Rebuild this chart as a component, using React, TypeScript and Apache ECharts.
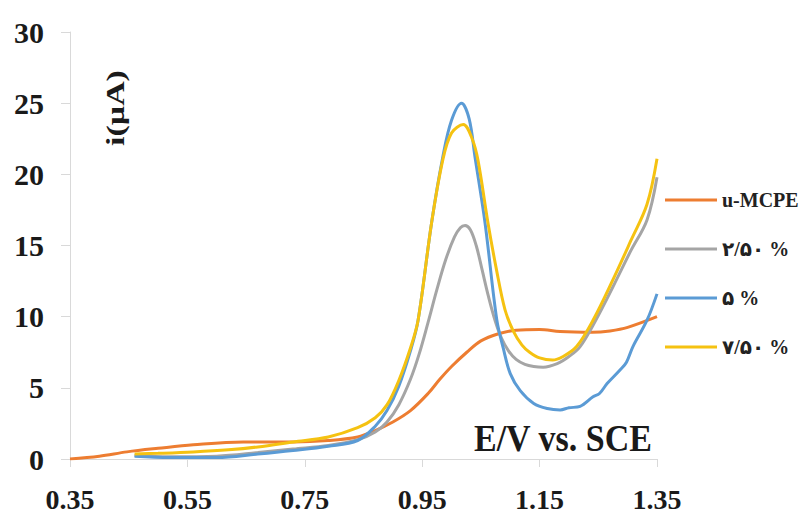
import React, { useEffect, useRef } from 'react';
import * as echarts from 'echarts';

// Potential origin of the x axis (V vs. SCE)
const E_START = 0.35;
const E_STEP = 0.2;
const xTickLabels = ['0.35', '0.55', '0.75', '0.95', '1.15', '1.35'];
const yTickValues = [0, 5, 10, 15, 20, 25, 30];

const seriesNames = ['u-MCPE', '۲/۵۰ %', '۵ %', '۷/۵۰ %'];
const seriesColors = ['#ED7D31', '#A5A5A5', '#5B9BD5', '#F5C211'];

// [E (V), i (µA)]
const uMcpe: [number, number][] = [
  [0.35, 0], [0.4, 0.2], [0.447, 0.5], [0.5, 0.75], [0.56, 1.0], [0.645, 1.2],
  [0.73, 1.2], [0.79, 1.3], [0.84, 1.55], [0.87, 2.0], [0.9, 2.6], [0.93, 3.4],
  [0.96, 4.6], [0.98, 5.6], [1.0, 6.5], [1.026, 7.5], [1.05, 8.3], [1.08, 8.8],
  [1.11, 9.05], [1.15, 9.1], [1.185, 8.95], [1.24, 8.9], [1.27, 9.0], [1.3, 9.25],
  [1.35, 10.0],
];

const mcpe25: [number, number][] = [
  [0.46, 0.25], [0.52, 0.15], [0.6, 0.2], [0.67, 0.45], [0.73, 0.7], [0.79, 0.95],
  [0.84, 1.35], [0.87, 1.9], [0.89, 2.6], [0.91, 3.8], [0.93, 5.6], [0.945, 7.4],
  [0.96, 9.6], [0.975, 11.9], [0.99, 14.0], [1.005, 15.6], [1.015, 16.25],
  [1.023, 16.4], [1.032, 16.1], [1.042, 15.0], [1.052, 13.3], [1.063, 11.4],
  [1.074, 9.75], [1.085, 8.5], [1.097, 7.6], [1.11, 7.0], [1.125, 6.65],
  [1.14, 6.5], [1.156, 6.45], [1.18, 6.7], [1.2, 7.2], [1.219, 7.9], [1.245, 9.7],
  [1.275, 12.1], [1.305, 14.6], [1.333, 16.8], [1.35, 19.8],
];

const mcpe5: [number, number][] = [
  [0.46, 0.2], [0.52, 0.1], [0.6, 0.1], [0.67, 0.35], [0.73, 0.6], [0.79, 0.9],
  [0.84, 1.3], [0.87, 2.3], [0.89, 3.4], [0.91, 5.1], [0.93, 7.6], [0.943, 9.75],
  [0.966, 16.6], [0.985, 21.2], [1.0, 23.8], [1.017, 25.0], [1.03, 23.9],
  [1.04, 21.2], [1.057, 16.6], [1.077, 9.8], [1.088, 7.8], [1.1, 6.0], [1.117, 4.8],
  [1.14, 3.9], [1.163, 3.55], [1.185, 3.45], [1.2, 3.6], [1.219, 3.7], [1.241, 4.37],
  [1.252, 4.6], [1.265, 5.3], [1.287, 6.25], [1.298, 6.8], [1.309, 7.9],
  [1.333, 9.75], [1.35, 11.6],
];

const mcpe75: [number, number][] = [
  [0.46, 0.35], [0.5, 0.4], [0.56, 0.5], [0.62, 0.65], [0.67, 0.85], [0.73, 1.2],
  [0.79, 1.55], [0.84, 2.2], [0.87, 2.9], [0.89, 3.8], [0.91, 5.5], [0.93, 7.8],
  [0.943, 9.75], [0.966, 16.6], [0.985, 21.0], [1.0, 22.9], [1.02, 23.5],
  [1.035, 22.5], [1.045, 21.0], [1.062, 16.6], [1.077, 13.2], [1.091, 10.5],
  [1.105, 9.0], [1.12, 8.0], [1.133, 7.5], [1.15, 7.1], [1.172, 6.95], [1.19, 7.2],
  [1.213, 7.9], [1.241, 9.75], [1.275, 12.6], [1.305, 15.3], [1.333, 17.9],
  [1.35, 21.1],
];

const seriesData = [uMcpe, mcpe25, mcpe5, mcpe75];

const SERIF = '"Liberation Serif", "Times New Roman", "DejaVu Serif", "DejaVu Sans", serif';

export default function App() {
  const ref = useRef<HTMLDivElement>(null);

  useEffect(() => {
    if (!ref.current) return;
    const chart = echarts.init(ref.current, null, { renderer: 'svg' });
    chart.setOption({
      animation: false,
      backgroundColor: '#ffffff',
      grid: { left: 70, top: 32, width: 587, height: 427, containLabel: false },
      legend: {
        orient: 'vertical',
        left: 660,
        top: 184,
        icon: 'rect',
        itemWidth: 52,
        itemHeight: 3,
        itemGap: 27,
        itemTextGap: 10,
        data: seriesNames,
        textStyle: {
          fontFamily: SERIF,
          fontWeight: 'bold',
          fontSize: 20,
          lineHeight: 22,
          color: '#222',
        },
      },
      xAxis: {
        type: 'value',
        min: 0,
        max: 1,
        interval: E_STEP,
        axisLine: { show: true, lineStyle: { color: '#D9D9D9', width: 1 } },
        axisTick: { show: true, length: 8, lineStyle: { color: '#D9D9D9' } },
        splitLine: { show: false },
        axisLabel: {
          margin: 26,
          fontFamily: SERIF,
          fontWeight: 'bold',
          fontSize: 28,
          color: '#1a1a1a',
          formatter: (v: number) => xTickLabels[Math.round(v / E_STEP)] ?? '',
        },
      },
      yAxis: {
        type: 'value',
        min: yTickValues[0],
        max: yTickValues[yTickValues.length - 1],
        interval: yTickValues[1] - yTickValues[0],
        axisLine: { show: true, lineStyle: { color: '#D9D9D9', width: 1 } },
        axisTick: { show: true, length: 9, lineStyle: { color: '#D9D9D9' } },
        splitLine: { show: false },
        axisLabel: {
          margin: 26,
          fontFamily: SERIF,
          fontWeight: 'bold',
          fontSize: 30,
          color: '#1a1a1a',
        },
      },
      series: seriesData.map((pts, k) => ({
        name: seriesNames[k],
        type: 'line',
        smooth: 0.35,
        symbol: 'none',
        color: seriesColors[k],
        itemStyle: { color: seriesColors[k] },
        lineStyle: { width: 3, color: seriesColors[k] },
        data: pts.map(([e, i]) => [+(e - E_START).toFixed(4), i]),
        z: 2 + k,
      })),
      graphic: [
        {
          type: 'text',
          x: 115,
          y: 108,
          rotation: Math.PI / 2,
          scaleX: 1.3,
          style: {
            text: 'i(µA)',
            font: `bold 26px ${SERIF}`,
            fill: '#1a1a1a',
            align: 'center',
            verticalAlign: 'middle',
          },
        },
        {
          type: 'text',
          x: 474,
          y: 438,
          scaleY: 1.1,
          style: {
            text: 'E/V vs. SCE',
            font: `bold 34px ${SERIF}`,
            fill: '#1a1a1a',
            align: 'left',
            verticalAlign: 'middle',
          },
        },
      ],
    });
    return () => chart.dispose();
  }, []);

  return <div ref={ref} style={{ width: 804, height: 522, position: 'absolute', left: 0, top: 0 }} />;
}
